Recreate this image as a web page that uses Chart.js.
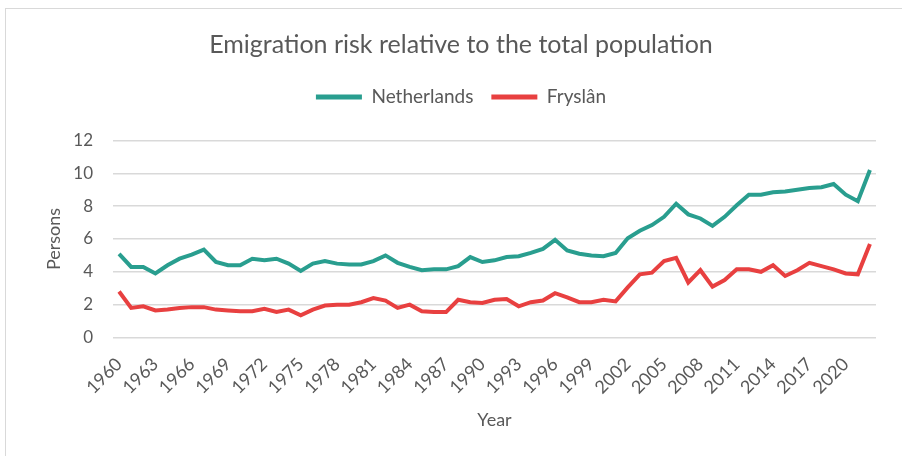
<!DOCTYPE html>
<html>
<head>
<meta charset="utf-8">
<script src="https://cdn.jsdelivr.net/npm/chart.js@4"></script>
<style>
  html, body { margin: 0; padding: 0; background: #fff; }
  #wrap { position: relative; width: 902px; height: 456px; }
  #frame { position: absolute; left: 5px; top: 8px; width: 920px; height: 470px; border: 1px solid #d9d9d9; box-sizing: border-box; }
  canvas { position: absolute; left: 0; top: 0; }
</style>
</head>
<body>
<div id="wrap">
  <div id="frame"></div>
  <canvas id="myChart" width="902" height="456"></canvas>
</div>
<script>
// years 1960 .. 2022
var years = [];
for (var y = 1960; y <= 2022; y++) years.push(String(y));

var netherlands = [
  5.1, 4.3, 4.3, 3.9, 4.4, 4.8, 5.05, 5.35, 4.6, 4.4,
  4.4, 4.8, 4.7, 4.8, 4.5, 4.05, 4.5, 4.65, 4.5, 4.45,
  4.45, 4.65, 5.0, 4.55, 4.3, 4.1, 4.15, 4.15, 4.35, 4.9,
  4.6, 4.7, 4.9, 4.95, 5.15, 5.4, 5.95, 5.3, 5.1, 5.0,
  4.95, 5.15, 6.05, 6.5, 6.85, 7.35, 8.15, 7.5, 7.25, 6.8,
  7.35, 8.05, 8.7, 8.7, 8.85, 8.9, 9.0, 9.1, 9.15, 9.35,
  8.7, 8.3, 10.2
];

var fryslan = [
  2.8, 1.8, 1.9, 1.65, 1.7, 1.8, 1.85, 1.85, 1.7, 1.65,
  1.6, 1.6, 1.75, 1.55, 1.7, 1.35, 1.7, 1.95, 2.0, 2.0,
  2.15, 2.4, 2.25, 1.8, 2.0, 1.6, 1.55, 1.55, 2.3, 2.15,
  2.1, 2.3, 2.35, 1.9, 2.15, 2.25, 2.7, 2.45, 2.15, 2.15,
  2.3, 2.2, 3.05, 3.85, 3.95, 4.65, 4.85, 3.35, 4.1, 3.1,
  3.5, 4.15, 4.15, 4.0, 4.4, 3.75, 4.1, 4.55, 4.35, 4.15,
  3.9, 3.85, 5.7
];

var yTicks = [0, 2, 4, 6, 8, 10, 12];

var teal = 'rgb(41,158,143)';
var red = 'rgb(232,64,64)';
var grey = '#595959';
var font = 'Lato';

// extra room between the legend and the plot
var legendGap = {
  id: 'legendGap',
  beforeInit: function (chart) {
    var fit = chart.legend.fit;
    chart.legend.fit = function () {
      fit.bind(chart.legend)();
      this.height += 24;
    };
  }
};

var ctx = document.getElementById('myChart').getContext('2d');
var chart = new Chart(ctx, {
  type: 'line',
  data: {
    labels: years,
    datasets: [{
      label: 'Netherlands',
      data: netherlands,
      borderColor: teal,
      backgroundColor: teal,
      borderWidth: 4,
      pointRadius: 0,
      tension: 0
    }, {
      label: 'Fryslân',
      data: fryslan,
      borderColor: red,
      backgroundColor: red,
      borderWidth: 4,
      pointRadius: 0,
      tension: 0
    }]
  },
  plugins: [legendGap],
  options: {
    responsive: false,
    animation: false,
    layout: { padding: { left: 20, right: 0, top: 0, bottom: 0 } },
    plugins: {
      title: {
        display: true,
        text: 'Emigration risk relative to the total population',
        color: grey,
        font: { family: font, size: 25, weight: 'normal' },
        padding: { top: 30, bottom: 9.5 }
      },
      legend: {
        labels: {
          color: grey,
          font: { family: font, size: 19 },
          boxWidth: 46,
          boxHeight: 5,
          padding: 18,
          generateLabels: function (chart) {
            return chart.data.datasets.map(function (ds, i) {
              return {
                text: ds.label,
                fillStyle: ds.borderColor,
                strokeStyle: ds.borderColor,
                lineWidth: 0,
                fontColor: grey,
                datasetIndex: i
              };
            });
          }
        }
      },
      tooltip: { enabled: false }
    },
    scales: {
      x: {
        offset: true,
        grid: { display: false },
        border: { display: false },
        ticks: {
          color: grey,
          font: { family: font, size: 18 },
          autoSkip: false,
          maxRotation: 45,
          minRotation: 45,
          padding: 8,
          callback: function (val, idx) {
            return idx % 3 === 0 ? this.getLabelForValue(val) : '';
          }
        },
        title: {
          display: true,
          text: 'Year',
          color: grey,
          font: { family: font, size: 18 },
          padding: { top: 4, bottom: 25 }
        },
        afterFit: function (scale) { scale.height = 456 - 337.5; }
      },
      y: {
        min: 0,
        max: 12,
        afterBuildTicks: function (scale) {
          scale.ticks = yTicks.map(function (v) { return { value: v }; });
        },
        grid: { color: '#d9d9d9', lineWidth: 1.5, drawTicks: false },
        border: { display: false },
        ticks: {
          color: grey,
          font: { family: font, size: 17 },
          padding: 20
        },
        title: {
          display: true,
          text: 'Persons',
          color: grey,
          font: { family: font, size: 18 },
          padding: { top: 23, bottom: 0 }
        },
        afterFit: function (scale) { scale.width = 93; }
      },
      y2: {
        position: 'right',
        grid: { display: false },
        border: { display: false },
        ticks: { display: false },
        afterFit: function (scale) { scale.width = 26; }
      }
    }
  }
});
</script>
</body>
</html>
